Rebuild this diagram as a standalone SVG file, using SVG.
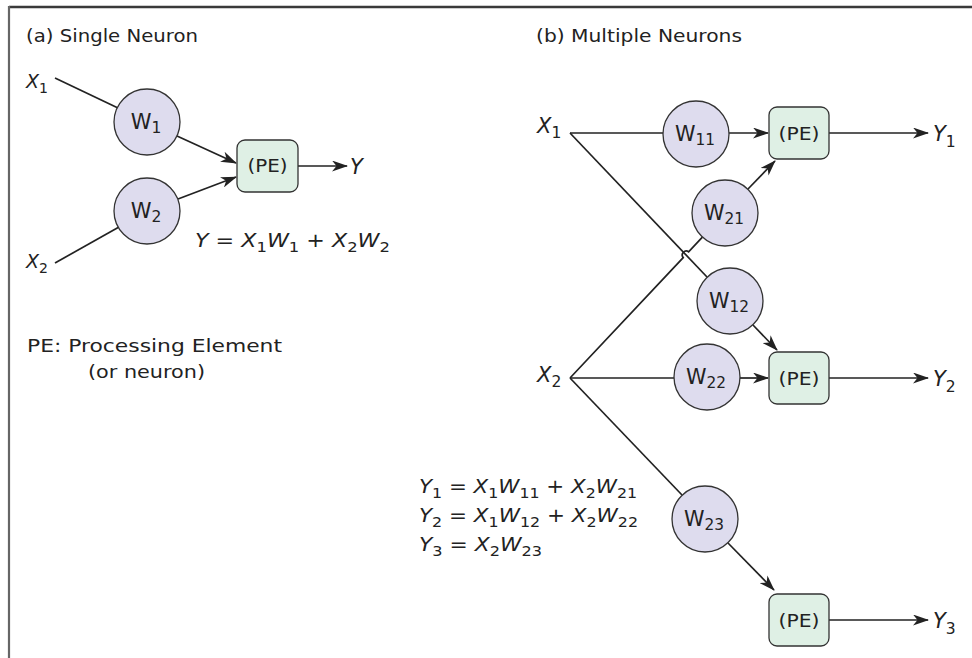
<svg xmlns="http://www.w3.org/2000/svg" width="972" height="658" viewBox="0 0 972 658">
<defs>
<style>
text{font-family:"DejaVu Sans","Liberation Sans",sans-serif;fill:#222;}
.i{font-style:italic;}
.s{font-size:0.74em;font-style:normal;}
.hd{font-size:17px;}
.lbl{font-size:21px;}
.xl{font-size:19px;}
.eq{font-size:19px;}
.pe{font-size:18px;}
.w{fill:#dedcee;stroke:#333;stroke-width:1.3;}
.box{fill:#dff0e5;stroke:#333;stroke-width:1.3;}
.ln{fill:none;stroke:#222;stroke-width:1.7;}
.ar{fill:none;stroke:#222;stroke-width:1.7;marker-end:url(#ah);}
</style>
<marker id="ah" viewBox="0 0 16 11" refX="15" refY="5.5" markerWidth="16" markerHeight="11" markerUnits="userSpaceOnUse" orient="auto">
<path d="M0,0 L16,5.5 L0,11 L4.5,5.5 z" fill="#222"/>
</marker>
</defs>
<rect width="972" height="658" fill="#fff"/>
<g id="frame">
<line x1="9" y1="7" x2="972" y2="7" stroke="#3a3a3a" stroke-width="2.4"/>
<line x1="9" y1="6" x2="9" y2="658" stroke="#666" stroke-width="2.2"/>
</g>
<g id="titles">
<text class="hd" x="26" y="42" textLength="172" lengthAdjust="spacingAndGlyphs">(a) Single Neuron</text>
<text class="hd" x="536" y="42" textLength="206" lengthAdjust="spacingAndGlyphs">(b) Multiple Neurons</text>
<text class="hd" x="27" y="352" textLength="255" lengthAdjust="spacingAndGlyphs">PE: Processing Element</text>
<text class="hd" x="88" y="378" textLength="117" lengthAdjust="spacingAndGlyphs">(or neuron)</text>
</g>
<g id="connectors">
<line class="ln" x1="55" y1="78" x2="118" y2="108"/>
<line class="ln" x1="55" y1="263" x2="119" y2="227"/>
<line class="ar" x1="177" y1="136" x2="236" y2="163"/>
<line class="ar" x1="178" y1="199" x2="236" y2="177"/>
<line class="ar" x1="298" y1="166" x2="347" y2="166"/>
<line class="ln" x1="570" y1="133" x2="663" y2="133"/>
<line class="ar" x1="729" y1="133" x2="768" y2="133"/>
<line class="ar" x1="829" y1="133" x2="928" y2="133"/>
<line class="ln" x1="570" y1="133" x2="707" y2="277"/>
<line class="ar" x1="753" y1="325" x2="777" y2="350"/>
<path class="ln" d="M570,378 L683.2,257.6 A4,4 0 0 1 688.6,251.8 L702.4,237.1"/>
<line class="ar" x1="748" y1="189" x2="775" y2="161"/>
<line class="ln" x1="570" y1="378" x2="674" y2="378"/>
<line class="ar" x1="740" y1="378" x2="768" y2="378"/>
<line class="ar" x1="829" y1="378" x2="928" y2="378"/>
<line class="ln" x1="570" y1="378" x2="682" y2="495"/>
<line class="ar" x1="728" y1="543" x2="774" y2="590"/>
<line class="ar" x1="829" y1="620" x2="928" y2="620"/>
</g>
<g id="W1"><circle class="w" cx="147" cy="122" r="33"/><text class="lbl" x="146" y="129" text-anchor="middle">W<tspan class="s" dy="4">1</tspan></text></g>
<g id="W2"><circle class="w" cx="147" cy="211" r="33"/><text class="lbl" x="146" y="218" text-anchor="middle">W<tspan class="s" dy="4">2</tspan></text></g>
<g id="PEa"><rect class="box" x="237" y="140" width="61" height="52" rx="8"/><text class="pe" x="267.5" y="172" text-anchor="middle" textLength="40" lengthAdjust="spacingAndGlyphs">(PE)</text></g>
<g id="W11"><circle class="w" cx="696" cy="134" r="33"/><text class="lbl" x="695" y="141" text-anchor="middle" textLength="40" lengthAdjust="spacingAndGlyphs">W<tspan class="s" dy="4">11</tspan></text></g>
<g id="W21"><circle class="w" cx="725" cy="213" r="33"/><text class="lbl" x="724" y="220" text-anchor="middle" textLength="40" lengthAdjust="spacingAndGlyphs">W<tspan class="s" dy="4">21</tspan></text></g>
<g id="W12"><circle class="w" cx="730" cy="301" r="33"/><text class="lbl" x="729" y="308" text-anchor="middle" textLength="40" lengthAdjust="spacingAndGlyphs">W<tspan class="s" dy="4">12</tspan></text></g>
<g id="W22"><circle class="w" cx="707" cy="377" r="33"/><text class="lbl" x="706" y="384" text-anchor="middle" textLength="40" lengthAdjust="spacingAndGlyphs">W<tspan class="s" dy="4">22</tspan></text></g>
<g id="W23"><circle class="w" cx="705" cy="519" r="33"/><text class="lbl" x="704" y="526" text-anchor="middle" textLength="40" lengthAdjust="spacingAndGlyphs">W<tspan class="s" dy="4">23</tspan></text></g>
<g id="PE1"><rect class="box" x="769" y="107" width="60" height="52" rx="8"/><text class="pe" x="799" y="139.5" text-anchor="middle" textLength="41" lengthAdjust="spacingAndGlyphs">(PE)</text></g>
<g id="PE2"><rect class="box" x="769" y="352" width="60" height="52" rx="8"/><text class="pe" x="799" y="384.5" text-anchor="middle" textLength="41" lengthAdjust="spacingAndGlyphs">(PE)</text></g>
<g id="PE3"><rect class="box" x="769" y="594" width="60" height="52" rx="8"/><text class="pe" x="799" y="626.5" text-anchor="middle" textLength="41" lengthAdjust="spacingAndGlyphs">(PE)</text></g>
<g id="labels">
<text class="xl" x="26" y="88"><tspan class="i">X</tspan><tspan class="s" dy="5">1</tspan></text>
<text class="xl" x="26" y="268"><tspan class="i">X</tspan><tspan class="s" dy="5">2</tspan></text>
<text class="lbl i" x="350" y="174">Y</text>
<text class="lbl" x="537" y="133"><tspan class="i">X</tspan><tspan class="s" dy="5">1</tspan></text>
<text class="lbl" x="537" y="382"><tspan class="i">X</tspan><tspan class="s" dy="5">2</tspan></text>
<text class="lbl" x="933" y="141"><tspan class="i">Y</tspan><tspan class="s" dy="6">1</tspan></text>
<text class="lbl" x="933" y="386"><tspan class="i">Y</tspan><tspan class="s" dy="6">2</tspan></text>
<text class="lbl" x="933" y="628"><tspan class="i">Y</tspan><tspan class="s" dy="6">3</tspan></text>
</g>
<g id="equations">
<text class="eq" x="195" y="247" textLength="195" lengthAdjust="spacingAndGlyphs"><tspan class="i">Y</tspan> = <tspan class="i">X</tspan><tspan class="s" dy="5">1</tspan><tspan class="i" dy="-5">W</tspan><tspan class="s" dy="5">1</tspan><tspan dy="-5"> + </tspan><tspan class="i">X</tspan><tspan class="s" dy="5">2</tspan><tspan class="i" dy="-5">W</tspan><tspan class="s" dy="5">2</tspan></text>
<text class="eq" x="419" y="493" textLength="218" lengthAdjust="spacingAndGlyphs"><tspan class="i">Y</tspan><tspan class="s" dy="5">1</tspan><tspan dy="-5"> = </tspan><tspan class="i">X</tspan><tspan class="s" dy="5">1</tspan><tspan class="i" dy="-5">W</tspan><tspan class="s" dy="5">11</tspan><tspan dy="-5"> + </tspan><tspan class="i">X</tspan><tspan class="s" dy="5">2</tspan><tspan class="i" dy="-5">W</tspan><tspan class="s" dy="5">21</tspan></text>
<text class="eq" x="419" y="522" textLength="219" lengthAdjust="spacingAndGlyphs"><tspan class="i">Y</tspan><tspan class="s" dy="5">2</tspan><tspan dy="-5"> = </tspan><tspan class="i">X</tspan><tspan class="s" dy="5">1</tspan><tspan class="i" dy="-5">W</tspan><tspan class="s" dy="5">12</tspan><tspan dy="-5"> + </tspan><tspan class="i">X</tspan><tspan class="s" dy="5">2</tspan><tspan class="i" dy="-5">W</tspan><tspan class="s" dy="5">22</tspan></text>
<text class="eq" x="419" y="551" textLength="123" lengthAdjust="spacingAndGlyphs"><tspan class="i">Y</tspan><tspan class="s" dy="5">3</tspan><tspan dy="-5"> = </tspan><tspan class="i">X</tspan><tspan class="s" dy="5">2</tspan><tspan class="i" dy="-5">W</tspan><tspan class="s" dy="5">23</tspan></text>
</g>
</svg>
